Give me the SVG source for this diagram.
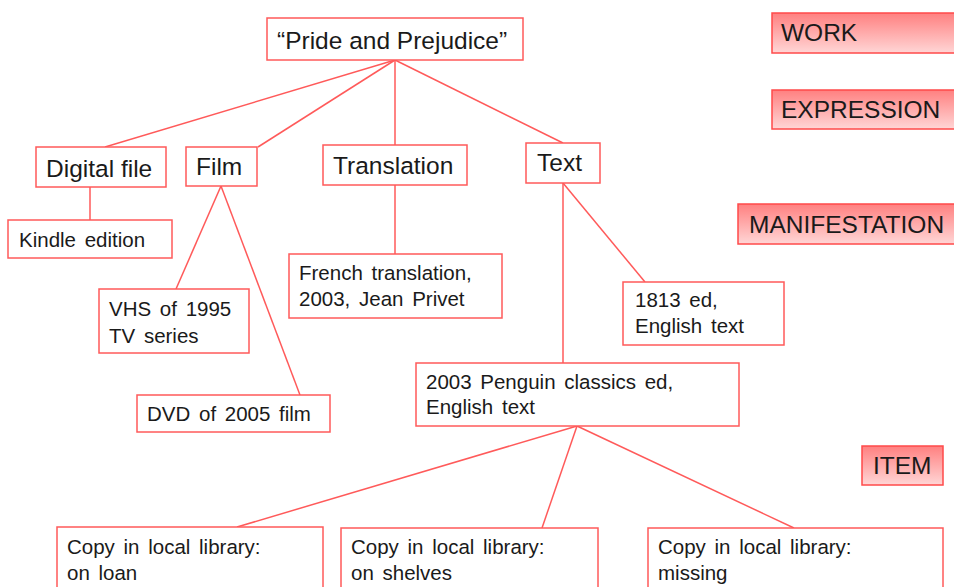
<svg xmlns="http://www.w3.org/2000/svg" width="954" height="587" viewBox="0 0 954 587">
<defs>
<linearGradient id="lg" x1="0" y1="0" x2="0" y2="1">
<stop offset="0" stop-color="#ff8080"/>
<stop offset="1" stop-color="#ffd6d6"/>
</linearGradient>
<style>
.b{fill:#fff;stroke:#ff5a5a;stroke-width:1.5}
.l{fill:url(#lg);stroke:#ff4a4a;stroke-width:1.5}
.t{font-family:"Liberation Sans",Arial,sans-serif;fill:#1a1a1a}
.t1{font-size:24.5px}
.t2{font-size:20.5px;word-spacing:3px}
.c line{stroke:#ff5a5a;stroke-width:1.5}
</style>
</defs>
<rect width="954" height="587" fill="#fff"/>
<g class="c" id="connectors">
<line x1="395" y1="60" x2="105" y2="147"/>
<line x1="395" y1="60" x2="258" y2="147"/>
<line x1="395" y1="60" x2="395" y2="145"/>
<line x1="395" y1="60" x2="563" y2="143"/>
<line x1="90" y1="187" x2="90" y2="220"/>
<line x1="221" y1="186" x2="176" y2="289"/>
<line x1="221" y1="186" x2="300" y2="395"/>
<line x1="395" y1="185" x2="395" y2="254"/>
<line x1="563" y1="183" x2="563" y2="363"/>
<line x1="563" y1="183" x2="645" y2="282"/>
<line x1="577" y1="426" x2="237" y2="527"/>
<line x1="577" y1="426" x2="542" y2="528"/>
<line x1="577" y1="426" x2="794" y2="528"/>
</g>
<g id="lbl-work"><rect class="l" x="772" y="13" width="200" height="40"/><text class="t t1" x="781" y="41">WORK</text></g>
<g id="lbl-expression"><rect class="l" x="772" y="90" width="200" height="39"/><text class="t t1" x="781" y="118">EXPRESSION</text></g>
<g id="lbl-manifestation"><rect class="l" x="738" y="204" width="230" height="40"/><text class="t t1" x="749" y="233">MANIFESTATION</text></g>
<g id="lbl-item"><rect class="l" x="862" y="446" width="81" height="39"/><text class="t t1" x="873" y="474">ITEM</text></g>
<g id="n-pride"><rect class="b" x="267" y="18" width="256" height="42"/><text class="t t1" x="277" y="49">“Pride and Prejudice”</text></g>
<g id="n-digital"><rect class="b" x="36" y="147" width="130" height="40"/><text class="t t1" x="46" y="177">Digital file</text></g>
<g id="n-film"><rect class="b" x="186" y="147" width="71" height="39"/><text class="t t1" x="196" y="175">Film</text></g>
<g id="n-translation"><rect class="b" x="323" y="145" width="144" height="40"/><text class="t t1" x="333" y="174">Translation</text></g>
<g id="n-text"><rect class="b" x="526" y="143" width="74" height="40"/><text class="t t1" x="537" y="171">Text</text></g>
<g id="n-kindle"><rect class="b" x="8" y="220" width="164" height="38"/><text class="t t2" x="19" y="247">Kindle edition</text></g>
<g id="n-french"><rect class="b" x="289" y="254" width="213" height="64"/><text class="t t2" x="299" y="280">French translation,</text><text class="t t2" x="299" y="306">2003, Jean Privet</text></g>
<g id="n-vhs"><rect class="b" x="99" y="289" width="150" height="64"/><text class="t t2" x="109" y="316">VHS of 1995</text><text class="t t2" x="109" y="343">TV series</text></g>
<g id="n-dvd"><rect class="b" x="137" y="395" width="193" height="37"/><text class="t t2" x="147" y="421">DVD of 2005 film</text></g>
<g id="n-1813"><rect class="b" x="623" y="282" width="161" height="63"/><text class="t t2" x="635" y="307">1813 ed,</text><text class="t t2" x="635" y="333">English text</text></g>
<g id="n-penguin"><rect class="b" x="416" y="363" width="323" height="63"/><text class="t t2" x="426" y="389">2003 Penguin classics ed,</text><text class="t t2" x="426" y="414">English text</text></g>
<g id="n-loan"><rect class="b" x="57" y="527" width="266" height="70"/><text class="t t2" x="67" y="554">Copy in local library:</text><text class="t t2" x="67" y="580">on loan</text></g>
<g id="n-shelves"><rect class="b" x="341" y="528" width="257" height="70"/><text class="t t2" x="351" y="554">Copy in local library:</text><text class="t t2" x="351" y="580">on shelves</text></g>
<g id="n-missing"><rect class="b" x="648" y="528" width="295" height="70"/><text class="t t2" x="658" y="554">Copy in local library:</text><text class="t t2" x="658" y="580">missing</text></g>
</svg>
